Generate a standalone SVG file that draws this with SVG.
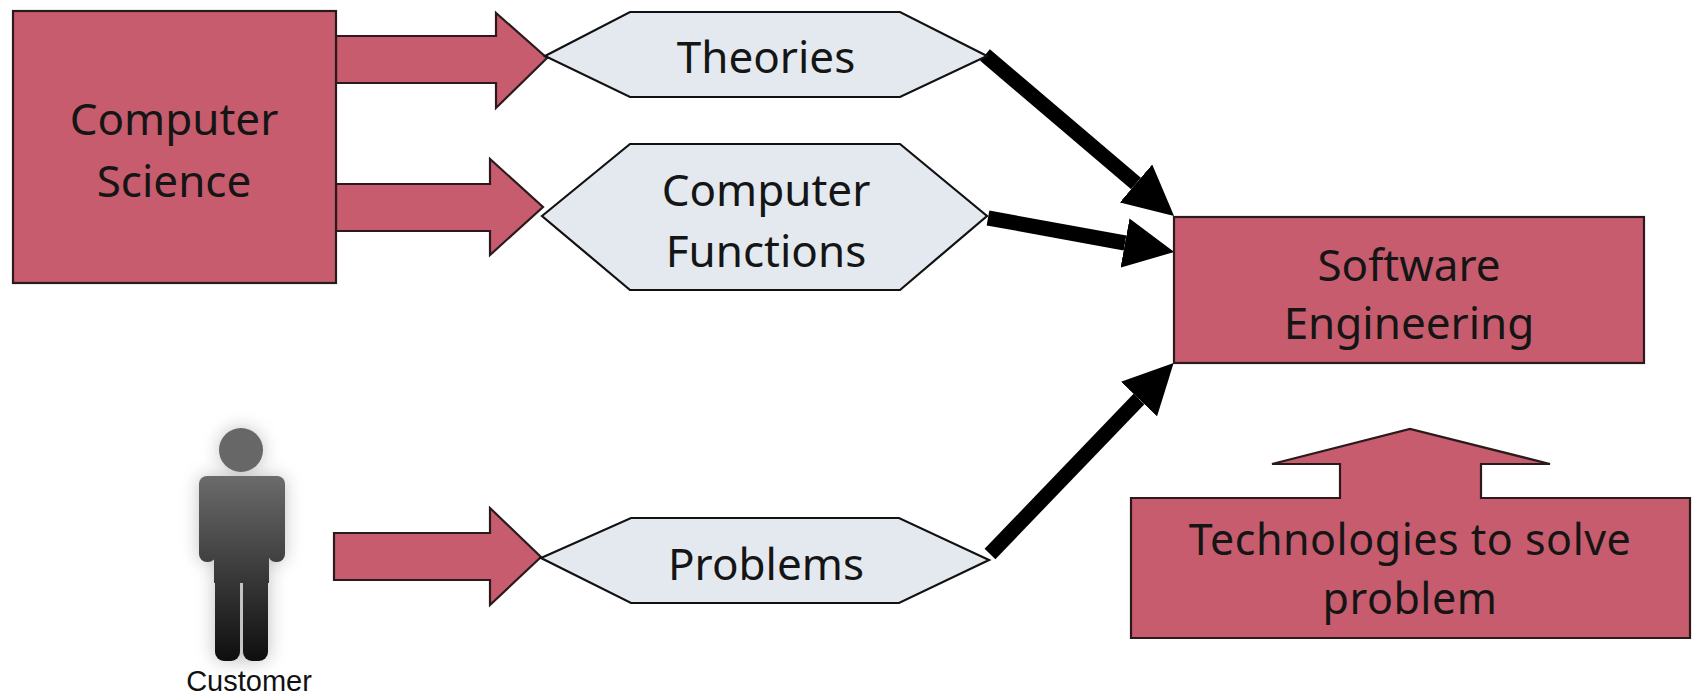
<svg xmlns="http://www.w3.org/2000/svg" width="1694" height="697" viewBox="0 0 1694 697">
<style>
.red{fill:#c75c6e;stroke:#2a1a1c;stroke-width:2.2;stroke-linejoin:miter}
.hex{fill:#e3e9ee;stroke:#111;stroke-width:2.2}
.lbl{font-family:"Noto Sans","Open Sans","Liberation Sans",sans-serif;font-size:44px;fill:#151515;text-anchor:middle}
.conn{stroke:#000;stroke-width:15;fill:none;stroke-linecap:butt}
</style>
<defs>
<marker id="ah" markerUnits="userSpaceOnUse" viewBox="0 -25 50 50" refX="0" refY="0" markerWidth="50" markerHeight="50" orient="auto">
<path d="M0,-25 L50,0 L0,25 z" fill="#000"/>
</marker>
<linearGradient id="pg" gradientUnits="userSpaceOnUse" x1="0" y1="470" x2="0" y2="662">
<stop offset="0" stop-color="#6e6e6e"/>
<stop offset="1" stop-color="#0e0e0e"/>
</linearGradient>
<filter id="blur" x="-50%" y="-50%" width="200%" height="200%"><feGaussianBlur stdDeviation="9"/></filter>
</defs>
<rect width="1694" height="697" fill="#fff"/>

<g id="connectors">
<polygon class="red" points="336,36 496,36 496,13 547,58 496,108 496,83 336,83"/>
<polygon class="red" points="336,184 490,184 490,159 543,207 490,255 490,231 336,231"/>
<polygon class="red" points="334,533 490,533 490,508 541,557 490,605 490,580 334,580"/>
<line class="conn" x1="985" y1="55" x2="1136" y2="183.5" marker-end="url(#ah)"/>
<line class="conn" x1="988" y1="218" x2="1125" y2="243" marker-end="url(#ah)"/>
<line class="conn" x1="990" y1="554" x2="1139" y2="399" marker-end="url(#ah)"/>
</g>

<g id="computer-science">
<rect class="red" x="13" y="11" width="323" height="272"/>
<text class="lbl"><tspan x="174" y="135">Computer</tspan><tspan x="174" y="197">Science</tspan></text>
</g>

<g id="theories">
<polygon class="hex" points="545,56 630,12 900,12 987,56 900,97 630,97"/>
<text class="lbl" x="766" y="73">Theories</text>
</g>

<g id="computer-functions">
<polygon class="hex" points="542,216 630,144 900,144 987,216 900,290 630,290"/>
<text class="lbl"><tspan x="766" y="206">Computer</tspan><tspan x="766" y="267">Functions</tspan></text>
</g>

<g id="problems">
<polygon class="hex" points="541,558 631,518 899,518 989,560 899,603 631,603"/>
<text class="lbl" x="766" y="580">Problems</text>
</g>

<g id="software-engineering">
<rect class="red" x="1174" y="217" width="470" height="146"/>
<text class="lbl"><tspan x="1409" y="281">Software</tspan><tspan x="1409" y="339">Engineering</tspan></text>
</g>

<g id="technologies">
<polygon class="red" points="1131,498 1340,498 1340,464 1272,464 1410,429 1550,464 1481,464 1481,498 1690,498 1690,638 1131,638"/>
<text class="lbl" style="font-size:43px;letter-spacing:0.5px"><tspan x="1410" y="555">Technologies to solve</tspan><tspan x="1410" y="614">problem</tspan></text>
</g>

<g id="customer">
<g filter="url(#blur)" opacity="0.35" fill="#555">
<circle cx="241" cy="450" r="22"/>
<rect x="199" y="476" width="86" height="86" rx="8"/>
<rect x="214" y="478" width="55" height="183" rx="9"/>
</g>
<g fill="url(#pg)">
<circle cx="241" cy="450" r="22" fill="#676767"/>
<rect x="199" y="476" width="86" height="22" rx="8"/>
<rect x="199" y="480" width="17" height="82" rx="8"/>
<rect x="268" y="480" width="17" height="82" rx="8"/>
<rect x="214" y="478" width="55" height="105"/>
<rect x="215" y="560" width="25" height="101" rx="9"/>
<rect x="243" y="560" width="25" height="101" rx="9"/>
</g>
<text x="249" y="691" font-family="'Liberation Sans',Arial,sans-serif" font-size="29" fill="#111" text-anchor="middle">Customer</text>
</g>
</svg>
